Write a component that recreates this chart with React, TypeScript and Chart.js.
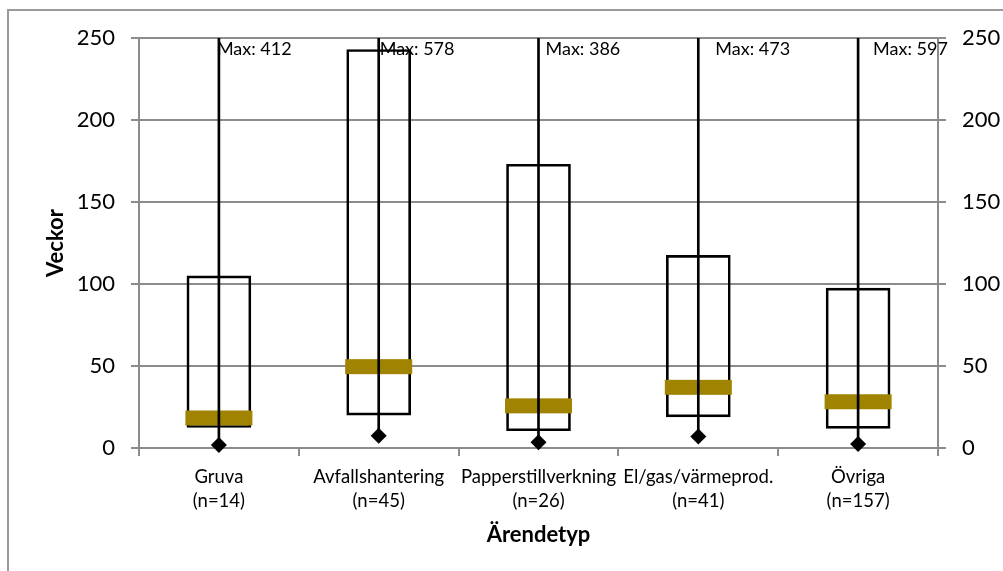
import React, { useEffect, useRef } from 'react';
import { Chart, registerables } from 'chart.js';

Chart.register(...registerables);

const categories = [
  ['Gruva', '(n=14)'],
  ['Avfallshantering', '(n=45)'],
  ['Papperstillverkning', '(n=26)'],
  ['El/gas/värmeprod.', '(n=41)'],
  ['Övriga', '(n=157)'],
];
const minValues = [1.8, 7.5, 3.5, 7, 2.5];
const q1Values = [12.5, 20, 10.5, 19, 12];
const medianValues = [18.3, 49.6, 25.7, 37, 28.2];
const q3Values = [105, 243, 173, 117.5, 97.5];
const maxValues = [412, 578, 386, 473, 597];
const yTickStep = 50;
const yMin = 0;
const yMax = 250;

const FONT = 'Lato';
const GRID = '#8c8c8c';
const MEDIAN_COLOR = '#A08300';
const MAX_LABEL_DX = [-2, 1, 7, 17, 15];

const framePlugin = {
  id: 'frame',
  beforeDraw(chart: any) {
    const ctx = chart.ctx;
    ctx.save();
    ctx.strokeStyle = '#9a9a9a';
    ctx.lineWidth = 2;
    ctx.beginPath();
    ctx.moveTo(8, chart.height);
    ctx.lineTo(8, 10);
    ctx.lineTo(chart.width, 10);
    ctx.stroke();
    ctx.restore();
  },
};

const medianPlugin = {
  id: 'medianBands',
  afterDatasetDraw(chart: any, args: any) {
    if (args.index !== 2) return;
    const ctx = chart.ctx;
    const xs = chart.scales.x;
    const ys = chart.scales.y;
    const area = chart.chartArea;
    ctx.save();
    ctx.beginPath();
    ctx.rect(area.left, area.top, area.right - area.left, area.bottom - area.top);
    ctx.clip();
    ctx.fillStyle = MEDIAN_COLOR;
    medianValues.forEach((m, i) => {
      const x = xs.getPixelForValue(i);
      const y = ys.getPixelForValue(m);
      ctx.fillRect(x - 33.5, y - 7.5, 67, 15);
    });
    ctx.restore();
  },
};

const maxLabelPlugin = {
  id: 'maxLabels',
  afterDatasetsDraw(chart: any) {
    const ctx = chart.ctx;
    const xs = chart.scales.x;
    const area = chart.chartArea;
    ctx.save();
    ctx.fillStyle = '#000';
    ctx.font = `18px ${FONT}`;
    ctx.textAlign = 'left';
    ctx.textBaseline = 'alphabetic';
    maxValues.forEach((v, i) => {
      const x = xs.getPixelForValue(i) + MAX_LABEL_DX[i];
      ctx.fillText(`Max: ${v}`, x, area.top + 17);
    });
    ctx.restore();
  },
};

export default function App() {
  const ref = useRef<HTMLCanvasElement | null>(null);

  useEffect(() => {
    if (!ref.current) return;
    Chart.defaults.font.family = FONT;
    const chart = new Chart(ref.current, {
      type: 'bar',
      data: {
        labels: categories,
        datasets: [
          {
            type: 'line',
            label: 'Min',
            data: minValues,
            showLine: false,
            pointStyle: 'rectRot',
            pointRadius: 8,
            pointHoverRadius: 8,
            pointBackgroundColor: '#000',
            pointBorderWidth: 0,
            borderColor: '#000',
            clip: false,
          } as any,
          {
            type: 'bar',
            label: 'Whisker',
            data: minValues.map((m, i) => [m, maxValues[i]]),
            backgroundColor: '#000',
            borderWidth: 0,
            barThickness: 2,
            grouped: false,
          } as any,
          {
            type: 'bar',
            label: 'Box',
            data: q1Values.map((q, i) => [q, q3Values[i]]),
            backgroundColor: 'rgba(0,0,0,0)',
            borderColor: '#000',
            borderWidth: 2,
            borderSkipped: false,
            barThickness: 64,
            grouped: false,
          } as any,
        ],
      },
      options: {
        animation: false,
        responsive: true,
        maintainAspectRatio: false,
        layout: { padding: { top: 38, left: 0, right: 0, bottom: 0 } },
        plugins: {
          legend: { display: false },
          tooltip: { enabled: false },
        },
        scales: {
          x: {
            type: 'category',
            offset: true,
            grid: {
              display: true,
              drawOnChartArea: false,
              drawTicks: true,
              tickLength: 8,
              color: GRID,
              lineWidth: 2,
              offset: true,
            },
            border: { color: GRID, width: 2 },
            ticks: {
              color: '#000',
              font: { family: FONT, size: 18.5, lineHeight: 1.3 },
              padding: 9,
              maxRotation: 0,
              autoSkip: false,
            },
            title: {
              display: true,
              text: 'Ärendetyp',
              color: '#000',
              font: { family: FONT, size: 22, weight: 'bold', lineHeight: 1.2 },
              padding: { top: 0, bottom: 23 },
            },
            afterFit: (s: any) => {
              s.height = 123;
            },
          },
          y: {
            type: 'linear',
            position: 'left',
            min: yMin,
            max: yMax,
            ticks: {
              stepSize: yTickStep,
              color: '#000',
              font: { family: FONT, size: 22 },
              padding: 16,
            },
            grid: { color: GRID, lineWidth: 2, tickLength: 8 },
            border: { color: GRID, width: 2 },
            title: {
              display: true,
              text: 'Veckor',
              color: '#000',
              font: { family: FONT, size: 22, weight: 'bold', lineHeight: 1.2 },
              padding: { top: 43, bottom: 0 },
            },
            afterFit: (s: any) => {
              s.width = 139;
            },
          },
          y2: {
            type: 'linear',
            position: 'right',
            min: yMin,
            max: yMax,
            ticks: {
              stepSize: yTickStep,
              color: '#000',
              font: { family: FONT, size: 22 },
              padding: 16,
            },
            grid: { drawOnChartArea: false, color: GRID, lineWidth: 2, tickLength: 8 },
            border: { color: GRID, width: 2 },
            afterFit: (s: any) => {
              s.width = 65;
            },
          },
        },
      } as any,
      plugins: [framePlugin, medianPlugin, maxLabelPlugin],
    });
    return () => chart.destroy();
  }, []);

  return (
    <div style={{ position: 'absolute', left: 0, top: 0, width: 1003, height: 571, background: '#fff' }}>
      <canvas ref={ref} />
    </div>
  );
}
